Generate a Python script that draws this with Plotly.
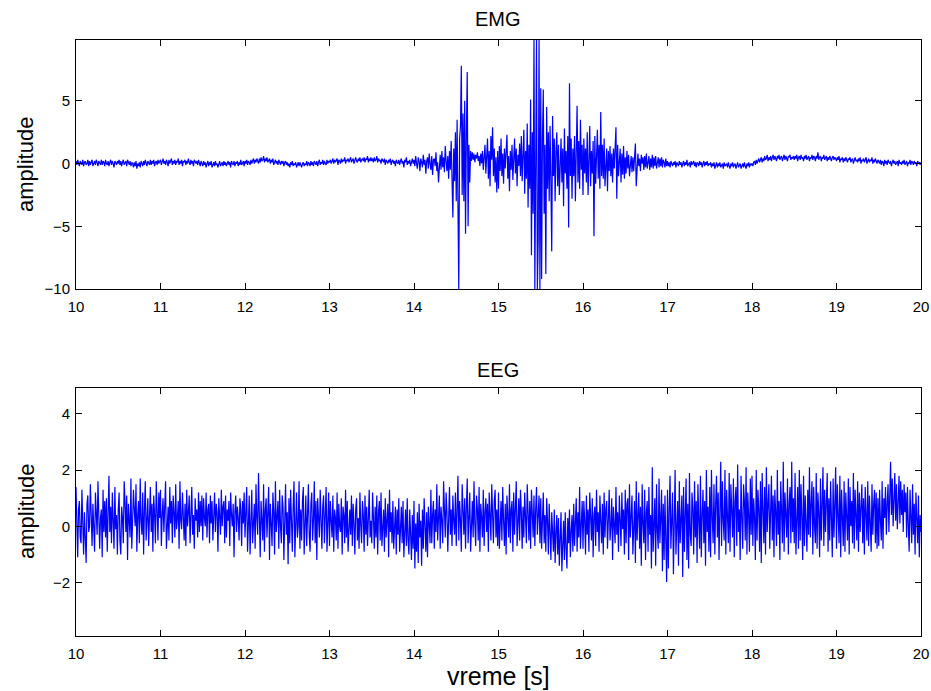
import numpy as np
import plotly.graph_objects as go

# ---- data: samples every 0.01 s from 10 s to 20 s ----
emg_values = [
    # 10.00-10.49
    0.2,-0.1,0.3,0.0,-0.2,0.2,0.1,-0.1,0.3,-0.2,0.1,0.2,-0.1,0.0,0.3,-0.2,0.2,-0.1,0.1,0.3,-0.2,0.0,0.2,-0.1,0.3,
    0.1,-0.2,0.2,0.0,-0.1,0.3,-0.1,0.2,0.1,-0.2,0.3,0.0,-0.1,0.2,-0.2,0.1,0.3,-0.1,0.2,0.0,-0.3,0.2,0.1,-0.1,0.2,
    # 10.50-10.99
    0.0,0.3,-0.1,0.2,-0.2,0.1,0.3,-0.1,0.0,0.2,-0.2,0.3,0.1,-0.1,0.2,-0.2,0.1,0.0,-0.3,0.1,-0.2,0.2,-0.4,0.0,-0.2,
    0.1,-0.3,0.2,0.0,-0.2,0.2,-0.1,0.3,0.0,-0.2,0.2,0.1,-0.1,0.3,-0.1,0.2,0.0,0.3,-0.2,0.1,0.2,-0.1,0.3,0.0,0.1,
    # 11.00-11.49
    0.3,-0.1,0.2,0.4,0.0,0.2,-0.1,0.3,0.1,-0.2,0.3,0.0,0.2,0.4,-0.1,0.2,0.0,0.3,-0.1,0.2,0.1,0.4,-0.1,0.2,0.0,
    0.3,-0.2,0.2,0.1,0.3,-0.1,0.2,0.0,0.4,0.1,-0.1,0.3,0.0,0.2,-0.2,0.3,0.1,0.0,0.2,-0.1,0.3,0.1,-0.2,0.2,0.0,
    # 11.50-11.99
    -0.2,0.2,-0.1,0.1,-0.3,0.0,0.2,-0.2,0.1,-0.1,0.2,-0.3,0.0,0.1,-0.2,0.2,-0.1,0.0,-0.3,0.1,0.2,-0.2,0.0,0.1,-0.2,
    0.2,-0.1,0.1,-0.2,0.0,0.2,-0.1,0.1,-0.3,0.2,0.0,-0.1,0.2,-0.2,0.1,0.0,0.2,-0.2,0.1,-0.1,0.3,-0.1,0.0,0.2,-0.2,
    # 12.00-12.49
    0.2,0.0,0.3,-0.1,0.2,0.1,-0.1,0.3,0.0,0.2,0.4,0.0,0.3,0.1,0.4,0.2,0.0,0.4,0.1,0.5,0.2,0.3,0.6,0.1,0.4,
    0.2,0.5,0.1,0.3,0.4,0.0,0.3,0.1,0.4,-0.1,0.2,0.3,0.0,0.2,-0.1,0.3,0.1,-0.1,0.2,0.0,0.2,-0.2,0.1,0.2,-0.1,
    # 12.50-12.99
    0.1,-0.2,0.0,-0.3,0.1,-0.1,0.2,-0.2,0.0,-0.1,0.1,-0.3,0.0,0.1,-0.2,0.1,-0.1,-0.3,0.0,0.1,-0.2,0.0,-0.1,0.2,-0.2,
    0.1,0.0,-0.2,0.2,-0.1,0.1,-0.2,0.2,0.0,-0.1,0.2,-0.2,0.1,0.3,-0.1,0.1,0.0,0.3,-0.1,0.2,0.0,-0.1,0.3,0.0,0.2,
    # 13.00-13.49
    0.1,0.3,0.0,0.2,0.4,0.0,0.3,0.1,0.2,0.4,-0.1,0.3,0.2,0.0,0.4,0.1,0.3,0.2,0.5,0.0,0.3,0.2,0.4,0.1,0.3,
    0.5,0.1,0.2,0.4,0.0,0.3,0.5,0.2,0.1,0.4,0.2,0.5,0.1,0.3,0.4,0.2,0.5,0.1,0.4,0.3,0.6,0.1,0.4,0.2,0.5,
    # 13.50-13.99
    0.2,0.4,0.1,0.5,0.2,0.3,0.6,0.1,0.4,0.2,0.3,0.0,0.4,0.2,0.1,0.4,-0.1,0.3,0.2,0.0,0.3,0.1,0.4,-0.1,0.2,
    0.3,0.0,0.2,-0.2,0.3,0.1,0.0,0.3,-0.1,0.2,0.4,0.0,0.2,-0.3,0.3,0.1,0.5,-0.1,0.2,0.0,0.3,-0.2,0.1,0.4,0.0,
    # 14.00-14.49
    0.3,-0.2,0.6,0.0,-0.4,0.5,0.2,-0.6,0.4,0.1,-0.3,0.7,-0.1,0.3,-0.8,0.2,0.5,-0.4,0.8,0.0,-0.5,0.6,-0.9,0.3,0.4,
    -0.2,0.9,-0.6,0.1,-1.5,0.4,0.7,-0.5,1.0,-0.3,0.5,-0.7,1.4,0.2,-0.6,0.6,-1.2,1.0,-0.5,1.8,-1.0,-4.3,1.2,-1.4,2.5,
    # 14.50-14.99
    -3.0,3.5,-1.5,-10.0,2.0,3.0,7.8,-2.5,4.0,-3.0,5.0,-5.6,2.5,7.3,-5.0,1.5,-1.5,1.0,0.2,0.9,0.3,0.8,0.1,0.7,0.4,
    0.9,0.2,0.6,-0.2,0.8,0.0,1.0,-0.5,0.8,1.5,-0.8,0.6,2.0,-1.2,1.0,-1.8,2.2,0.3,2.9,-1.0,1.2,-1.5,0.5,-2.3,1.0,
    # 15.00-15.49
    -2.0,1.4,-0.6,2.0,-1.0,0.8,-1.6,1.2,-0.4,1.8,2.3,-1.2,0.6,-2.2,1.0,-0.5,1.5,-1.3,0.4,2.0,-0.8,1.2,-1.8,0.7,-0.2,
    1.6,-1.0,2.2,-1.4,0.9,2.7,-2.4,1.0,-1.2,3.2,-3.5,1.5,-2.0,5.1,-7.3,2.5,-4.0,9.9,-10.0,3.0,9.9,-10.0,-6.0,9.9,-10.0,
    # 15.50-15.99
    6.0,-9.2,2.0,5.9,-4.0,1.5,-8.8,4.5,-2.0,2.5,-3.0,3.0,-1.5,-7.0,3.8,-1.0,2.0,-3.0,1.0,2.5,-1.8,1.5,-2.5,0.5,2.0,
    -1.5,1.2,-3.4,2.8,-0.8,1.0,-2.0,2.2,-5.1,6.4,-1.0,2.0,-2.8,1.2,-1.0,2.2,-3.0,0.8,4.6,-1.5,1.8,-2.0,3.5,-0.5,1.5,
    # 16.00-16.49
    -2.5,2.0,-0.8,1.2,-1.5,2.5,-2.5,0.6,3.0,-1.8,1.0,-0.8,1.8,-5.8,2.2,-1.6,0.8,2.7,-1.2,1.5,-2.0,4.1,-1.0,1.5,-1.2,
    2.0,-1.8,0.6,1.2,-2.2,1.0,-0.6,1.4,-1.0,0.8,-1.5,1.2,-0.4,0.9,2.9,-2.8,1.5,-1.0,0.6,1.2,-1.5,0.8,-0.9,1.4,-1.2,
    # 16.50-16.99
    0.5,-0.8,1.0,-0.4,0.7,-1.0,0.4,0.6,-0.7,0.5,-0.6,0.9,1.6,-1.8,-0.5,0.8,-0.2,0.4,-0.6,0.7,
    0.0,0.5,-0.5,0.6,-0.3,0.8,-0.4,0.3,0.6,-0.5,0.4,-0.3,0.7,-0.4,0.5,-0.2,0.6,-0.4,0.3,0.5,
    -0.3,0.4,-0.2,0.5,-0.3,0.3,0.1,-0.3,0.4,-0.2,
    # 17.00-17.49
    0.2,-0.2,0.1,-0.3,0.2,0.0,-0.2,0.1,-0.1,0.2,-0.3,0.1,0.0,-0.2,0.2,-0.1,0.1,-0.3,0.0,0.2,-0.2,0.1,-0.1,0.3,-0.2,
    0.0,0.1,-0.3,0.2,-0.1,0.0,0.2,-0.2,0.1,-0.3,0.1,0.0,-0.2,0.2,-0.1,0.1,-0.3,0.0,0.2,-0.2,0.1,-0.1,0.2,-0.2,0.0,
    # 17.50-17.99
    -0.1,0.1,-0.3,0.0,-0.2,0.1,-0.4,-0.1,0.1,-0.3,0.0,-0.2,0.1,-0.3,-0.1,0.0,-0.4,0.1,-0.2,-0.1,0.0,-0.3,0.1,-0.2,-0.4,
    0.0,-0.2,0.1,-0.3,-0.1,0.0,-0.4,-0.1,0.1,-0.3,-0.2,0.0,-0.4,-0.1,0.0,-0.3,0.1,-0.2,-0.4,0.0,-0.2,0.1,-0.3,0.0,-0.1,
    # 18.00-18.49
    0.0,-0.2,0.1,0.2,-0.1,0.3,0.0,0.2,0.4,0.1,0.3,0.5,0.1,0.4,0.2,0.6,0.3,0.4,0.7,0.2,0.5,0.3,0.6,0.2,0.5,
    0.7,0.3,0.6,0.4,0.2,0.6,0.4,0.7,0.3,0.5,0.6,0.2,0.5,0.7,0.3,0.6,0.4,0.2,0.6,0.5,0.7,0.3,0.5,0.4,0.6,
    # 18.50-18.99
    0.3,0.6,0.4,0.7,0.2,0.5,0.6,0.3,0.7,0.4,0.5,0.2,0.6,0.4,0.7,0.3,0.5,0.6,0.2,0.5,0.4,0.7,0.3,0.6,0.5,
    0.2,0.6,0.4,0.9,0.3,0.5,0.6,0.2,0.5,0.4,0.7,0.3,0.5,0.6,0.2,0.5,0.3,0.6,0.4,0.2,0.5,0.6,0.3,0.5,0.4,
    # 19.00-19.49
    0.2,0.5,0.3,0.6,0.1,0.4,0.3,0.5,0.1,0.4,0.2,0.5,0.3,0.1,0.4,0.3,0.5,0.1,0.3,0.4,0.0,0.3,0.5,0.2,0.3,
    0.1,0.4,0.2,0.5,0.0,0.3,0.2,0.4,0.1,0.3,0.5,0.0,0.2,0.4,0.1,0.3,0.2,0.5,0.0,0.3,0.1,0.4,0.2,0.0,0.3,
    # 19.50-19.99
    0.2,0.0,0.3,-0.1,0.2,0.1,-0.2,0.3,0.0,0.2,-0.1,0.3,0.1,0.0,0.2,-0.2,0.1,0.3,0.0,0.2,-0.1,0.1,0.2,-0.2,0.3,
    0.0,0.1,-0.1,0.2,0.0,0.3,-0.1,0.1,0.2,-0.2,0.1,0.0,0.3,-0.1,0.2,0.1,-0.1,0.2,0.0,0.1,-0.2,0.2,0.0,0.1,-0.1,
    # 20.00
    0.1,
]

eeg_values = [
    # 10.00-10.49
    1.4,0.3,-1.1,0.6,0.9,-0.4,-0.6,1.3,0.2,-1.0,0.5,-0.3,-1.3,0.8,1.1,-0.2,0.0,1.5,0.4,-0.7,0.8,-0.5,-0.9,1.2,0.6,
    -0.3,1.6,0.1,-0.8,0.3,0.6,-1.1,1.3,-0.2,0.9,-0.4,1.0,-0.9,0.5,1.8,-0.2,0.7,-0.6,1.2,0.2,-0.8,1.4,-0.1,0.4,-1.0,
    # 10.50-10.99
    0.6,1.2,-0.5,-1.0,0.7,0.3,-0.6,1.6,0.9,-0.2,1.1,-1.2,0.8,0.1,-0.4,1.7,-0.8,0.2,1.3,0.6,0.0,1.5,-0.9,0.4,0.9,
    -0.6,1.7,0.2,-0.3,1.2,-1.0,0.6,1.6,-0.5,0.3,1.0,-0.7,0.5,1.4,-0.2,0.8,-0.9,1.1,0.4,-0.6,1.6,0.0,-0.5,1.2,0.3,
    # 11.00-11.49
    1.3,-0.7,0.4,1.0,-0.2,0.7,1.6,-0.8,0.2,0.7,-0.5,1.4,0.1,0.9,-0.6,1.1,0.5,-0.4,1.5,-0.1,0.3,0.9,-0.8,1.6,0.2,
    -0.1,1.2,0.6,-0.5,0.8,-0.7,1.3,0.0,0.5,1.1,-0.6,0.7,1.4,-0.3,0.4,-0.8,1.0,0.2,0.6,-0.4,1.2,-0.2,0.9,0.0,1.1,
    # 11.50-11.99
    -0.5,1.0,0.3,0.0,1.2,-0.4,0.6,0.8,-0.6,1.1,0.1,0.9,-0.5,0.4,1.2,-0.2,0.8,0.5,-0.9,1.0,0.3,-0.3,1.3,0.0,0.7,
    0.9,-0.6,1.1,-0.4,0.6,0.2,0.9,-0.7,1.2,0.4,0.0,0.8,-1.1,0.5,1.1,-0.2,0.7,0.3,-0.5,1.0,0.6,-0.7,0.9,0.1,1.2,
    # 12.00-12.49
    -0.4,0.9,1.4,-0.9,0.2,1.1,-1.0,0.6,1.3,-0.6,0.0,0.8,-0.8,1.5,0.3,-0.3,1.9,0.4,-1.1,0.9,0.2,-0.5,1.5,-0.9,0.6,
    1.0,-0.4,0.3,1.4,-1.2,0.8,0.1,-0.7,1.2,0.5,-1.0,1.6,-0.2,0.4,0.9,-0.8,1.3,0.0,-0.6,1.1,0.7,-1.2,0.8,1.5,-0.3,
    # 12.50-12.99
    0.5,-1.35,1.0,-0.6,1.3,0.2,-0.9,0.7,1.6,-1.1,0.4,1.2,-0.4,0.0,1.6,-0.8,0.6,-0.5,0.9,1.4,-1.0,0.3,1.1,-0.7,0.5,
    1.5,-0.3,-0.9,0.8,1.2,-0.5,0.2,1.6,-0.6,0.9,-1.2,1.0,0.4,-0.4,1.3,0.1,-0.8,0.7,1.1,-0.6,0.3,1.4,-0.9,0.6,1.2,
    # 13.00-13.49
    -0.7,0.9,0.2,-0.4,1.1,-0.9,0.6,0.3,-0.5,1.2,-0.8,0.8,0.0,-0.2,1.0,-1.0,0.7,0.4,-0.6,1.3,-0.4,0.9,-0.9,0.2,0.6,
    -0.3,1.1,-0.7,0.8,0.1,-1.0,0.6,1.0,-0.5,0.3,-0.8,1.2,0.0,-0.6,0.9,0.4,-0.9,1.1,-0.3,0.7,-0.7,0.5,1.3,-0.4,0.2,
    # 13.50-13.99
    -0.6,1.2,0.3,-0.8,0.7,-0.4,1.1,-1.0,0.5,0.9,-0.5,1.2,-0.7,0.2,0.6,-0.9,1.0,-0.4,0.3,0.8,-1.1,1.3,-0.2,0.5,-0.6,
    0.9,-0.8,0.4,0.7,-1.0,0.6,-0.3,1.0,-0.9,0.3,0.7,-0.6,0.9,-1.1,0.2,0.6,-0.7,1.0,-0.5,-1.0,0.6,-0.3,-1.2,0.4,-0.8,
    # 14.00-14.49
    0.9,-1.5,0.1,-0.9,0.5,-1.3,0.8,-0.4,0.2,-1.4,0.6,-0.8,1.0,-0.3,-0.9,0.5,-1.1,0.7,0.0,-0.6,1.3,-0.6,0.4,0.9,-0.8,
    0.6,-0.2,1.5,-0.5,0.3,1.1,-0.8,0.7,0.2,-0.6,1.6,0.0,-0.4,1.2,0.5,-0.9,0.8,1.4,-0.3,0.6,-0.7,1.1,0.2,-0.3,1.2,
    # 14.50-14.99
    -0.7,0.6,1.8,-0.5,0.9,0.2,-0.9,1.5,0.4,-0.3,1.0,-0.8,0.7,1.7,-0.6,0.3,1.2,-0.9,0.5,0.9,-0.4,1.6,0.1,-0.7,1.1,
    0.6,-0.5,1.4,-0.9,0.8,0.3,-0.4,1.3,-0.7,0.5,1.0,-0.2,0.8,-0.9,1.2,0.4,-0.5,1.5,0.0,-0.6,0.9,1.3,-0.4,0.6,-0.7,
    # 15.00-15.49
    1.2,-0.8,0.5,0.9,-0.5,1.4,0.2,-0.7,0.8,-1.0,1.1,0.3,-0.4,1.5,-0.6,0.6,0.9,-0.9,1.2,-0.3,0.4,1.6,-0.7,0.1,1.0,
    -0.5,1.3,0.5,-0.8,0.7,-0.4,1.2,0.0,-0.6,1.5,0.3,-0.5,0.9,-0.8,1.3,0.4,-0.4,1.1,-0.7,0.6,1.4,-0.3,0.2,1.1,-0.6,
    # 15.50-15.99
    1.0,-0.8,0.7,1.2,-0.6,0.4,-0.9,1.0,0.2,-1.0,0.8,-0.5,-1.2,0.5,0.0,-0.9,0.6,-1.3,-0.2,0.4,-1.0,0.3,-1.4,-0.4,0.5,
    -1.6,-0.3,0.2,-1.2,0.5,-0.8,-1.5,0.3,-0.6,0.6,-1.1,-0.2,0.4,-0.9,0.8,-0.7,0.0,1.0,-0.9,0.5,-0.4,1.4,-0.8,0.3,0.9,
    # 16.00-16.49
    -0.8,0.9,0.2,-1.0,1.1,-0.3,0.6,-0.9,1.2,0.0,-0.5,1.0,-1.1,0.4,0.7,-0.7,1.3,-0.2,0.5,-0.9,1.1,0.2,-0.6,0.8,-1.0,
    1.2,-0.4,0.6,0.9,-0.8,0.3,1.3,-0.5,0.0,1.0,-1.2,0.7,0.2,-0.6,1.4,-0.3,0.5,-0.9,1.1,0.4,-0.7,1.2,-0.1,0.6,-1.0,
    # 16.50-16.99
    1.3,-0.6,0.8,1.0,-1.2,1.5,-0.4,0.3,1.1,-1.0,0.6,0.9,-1.3,1.6,-0.5,0.2,1.2,-0.8,0.7,-1.4,1.5,0.1,-0.6,1.3,-1.2,
    0.5,0.9,-0.9,1.4,-0.3,0.4,-1.5,2.1,-0.9,0.6,1.0,-1.4,1.5,-0.2,-0.8,1.7,-0.6,0.3,1.3,-1.6,0.8,-1.2,1.1,-0.5,-1.98,
    # 17.00-17.49
    1.3,-1.5,0.6,1.8,-0.8,0.2,1.2,-1.7,0.7,2.0,-1.0,0.4,0.9,-1.4,1.6,-0.6,0.3,1.1,-1.8,1.4,-0.9,0.5,1.7,-1.2,0.8,
    -1.5,1.9,-0.3,-0.7,1.2,0.6,-1.0,1.6,-0.4,0.9,-1.3,1.5,0.2,-0.8,1.8,-1.1,0.4,1.3,-0.6,0.9,-1.4,2.0,-0.2,0.7,-0.9,
    # 17.50-17.99
    1.4,-1.1,2.0,0.3,-0.6,1.5,-1.0,0.8,1.8,-0.4,1.2,-1.2,0.6,2.3,-0.7,1.6,0.2,-0.5,2.0,-1.0,1.3,0.5,-0.6,1.9,-0.9,
    1.5,0.0,-0.4,1.7,-1.1,0.9,1.4,-0.7,2.2,-0.2,0.6,-1.2,1.8,0.3,-0.8,1.5,0.9,-0.5,2.1,-1.0,1.2,0.4,-0.9,1.7,-0.3,
    # 18.00-18.49
    1.8,-0.7,1.0,0.3,-1.2,2.0,-0.5,1.3,0.6,-0.9,1.6,-1.3,1.9,0.1,-0.6,1.4,-1.0,2.1,-0.2,0.8,1.5,-0.8,0.3,1.8,-0.5,
    1.1,-1.1,1.3,0.5,-0.7,2.0,-0.3,0.9,-1.2,1.6,0.2,-0.6,2.3,-0.9,1.2,0.6,-0.4,1.7,-1.0,0.8,1.4,-0.6,2.3,-0.2,1.0,
    # 18.50-18.99
    -0.6,1.9,-1.0,0.6,1.4,-0.8,2.0,-0.5,1.5,0.3,-1.2,1.8,-0.7,1.1,0.4,-0.9,1.3,-0.3,2.1,-0.4,0.8,1.6,-1.0,1.4,0.0,
    -0.6,1.9,-0.8,1.2,0.5,-1.1,1.7,-0.5,0.9,2.1,-0.7,1.3,-0.2,0.6,1.9,-0.9,1.0,-0.5,1.6,0.3,-1.1,1.7,-0.4,0.8,2.1,
    # 19.00-19.49
    -0.8,1.5,0.4,-0.6,1.8,-1.1,1.3,0.2,-0.7,1.6,-0.9,1.2,0.5,-0.5,1.7,-1.0,1.4,0.0,0.9,-0.6,1.9,-0.8,1.3,0.3,-0.5,
    1.6,-0.9,1.2,-0.2,0.7,1.5,-0.6,1.0,-1.0,1.4,0.4,-0.5,1.6,-0.7,1.1,0.2,-0.9,1.5,-0.3,0.8,1.3,-0.6,1.2,-0.8,1.0,
    # 19.50-19.99
    -0.7,1.3,0.2,-0.5,1.6,-0.8,1.0,0.3,1.4,-0.3,0.8,1.5,-0.2,2.0,2.3,0.4,1.7,0.0,1.2,1.9,0.2,1.5,-0.1,1.1,1.8,
    0.1,1.6,0.4,1.3,-0.2,1.5,0.5,1.2,-0.4,1.4,0.0,-0.9,1.3,0.6,-0.6,1.5,-0.3,0.8,-1.0,1.2,0.3,-0.6,1.1,-1.1,0.4,
    # 20.00
    -0.2,
]

t_first, t_last = 10.0, 20.0
x_ticks = [10, 11, 12, 13, 14, 15, 16, 17, 18, 19, 20]
emg_yticks = [-10, -5, 0, 5]
eeg_yticks = [-2, 0, 2, 4]

t_emg = np.linspace(t_first, t_last, len(emg_values))
t_eeg = np.linspace(t_first, t_last, len(eeg_values))

FONT = "Arial, 'Liberation Sans', sans-serif"
BLUE = "#0000FF"

fig = go.Figure()
fig.add_trace(go.Scatter(x=t_emg, y=emg_values, mode="lines",
                         line=dict(color=BLUE, width=1.2), xaxis="x", yaxis="y",
                         showlegend=False, hoverinfo="skip"))
fig.add_trace(go.Scatter(x=t_eeg, y=eeg_values, mode="lines",
                         line=dict(color=BLUE, width=1.2), xaxis="x2", yaxis="y2",
                         showlegend=False, hoverinfo="skip"))

axis_common = dict(showgrid=False, zeroline=False, showline=True, linecolor="black",
                   linewidth=1, mirror="ticks", ticks="inside", ticklen=6,
                   automargin=False,
                   tickcolor="black", tickfont=dict(family=FONT, size=15, color="black"))

W, H = 931, 691
ML, MR, MT, MB = 76, 10, 40, 55

fig.update_layout(
    width=W, height=H, autosize=False,
    paper_bgcolor="white", plot_bgcolor="white",
    margin=dict(l=ML, r=MR, t=MT, b=MB, pad=0, autoexpand=False),
    showlegend=False,
    xaxis=dict(domain=[0, 1], range=[10, 20], tickvals=x_ticks, anchor="y",
               ticklabelstandoff=4, **axis_common),
    yaxis=dict(domain=[0.5822, 1], range=[-10, 9.85], tickvals=emg_yticks, anchor="x",
               ticklabelstandoff=2, **axis_common),
    xaxis2=dict(domain=[0, 1], range=[10, 20], tickvals=x_ticks, anchor="y2",
                ticklabelstandoff=4, **axis_common),
    yaxis2=dict(domain=[0, 0.4161], range=[-3.9, 4.92], tickvals=eeg_yticks, anchor="x2",
                ticklabelstandoff=2, **axis_common),
)

plot_h = H - MT - MB
plot_w = W - ML - MR
def py(px):
    return (H - MB - px) / plot_h
def pxx(px):
    return (px - ML) / plot_w

fig.add_annotation(text="EMG", x=pxx(498), y=py(19), xref="paper", yref="paper",
                   showarrow=False, xanchor="center", yanchor="middle",
                   font=dict(family=FONT, size=20, color="black"))
fig.add_annotation(text="EEG", x=pxx(498), y=py(370), xref="paper", yref="paper",
                   showarrow=False, xanchor="center", yanchor="middle",
                   font=dict(family=FONT, size=20, color="black"))
fig.add_annotation(text="amplitude", x=pxx(26), y=py(165), xref="paper", yref="paper",
                   showarrow=False, textangle=-90, xanchor="center", yanchor="middle",
                   font=dict(family=FONT, size=22, color="black"))
fig.add_annotation(text="amplitude", x=pxx(26), y=py(512), xref="paper", yref="paper",
                   showarrow=False, textangle=-90, xanchor="center", yanchor="middle",
                   font=dict(family=FONT, size=22, color="black"))
fig.add_annotation(text="vreme [s]", x=pxx(498), y=py(676), xref="paper", yref="paper",
                   showarrow=False, xanchor="center", yanchor="middle",
                   font=dict(family=FONT, size=25, color="black"))

fig.write_html("out.html",
               config={"displayModeBar": False, "responsive": False},
               post_script="document.body.style.margin='0px';")
